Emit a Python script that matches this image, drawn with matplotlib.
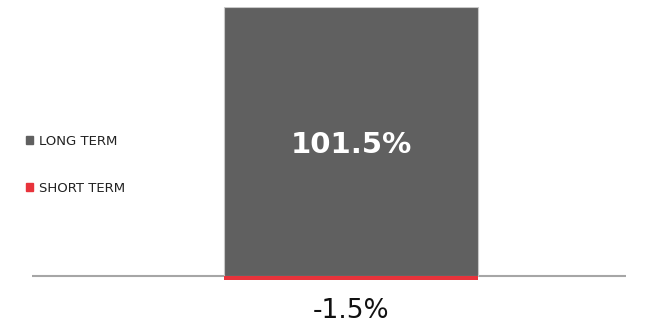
import matplotlib
matplotlib.use("Agg")
import matplotlib.pyplot as plt
from matplotlib.patches import Patch

categories = [""]
series_names = ["LONG TERM", "SHORT TERM"]
long_term = [101.5]
short_term = [-1.5]
colors = ["#606060", "#e8333b"]

fig = plt.figure(figsize=(6.54, 3.27), dpi=100)
ax = fig.add_axes([32/654, 0, 594/654, 1 - 7/327])

x = [0.537]
w = 0.4276
ax.bar(x, long_term, width=w, color=colors[0], edgecolor="#c8c8c8", linewidth=0.8, zorder=2)
ax.bar(x, short_term, width=w, color=colors[1], edgecolor="none", zorder=2)
ax.set_xlim(0, 1)
ax.set_ylim(-19.25, 101.5)
ax.axhline(0, color="#a6a6a6", linewidth=1.5, zorder=1)

for xi, v in zip(x, long_term):
    ax.text(xi, v * 0.5 - 1.5, f"{v:.1f}%", ha="center", va="center", color="white",
            fontsize=21, fontweight="bold", family="DejaVu Sans")
for xi, v in zip(x, short_term):
    ax.text(xi, -13.3, f"{v:.1f}%", ha="center", va="center", color="#111111",
            fontsize=19, family="DejaVu Sans")

for s in ax.spines.values():
    s.set_visible(False)
ax.set_xticks([])
ax.set_yticks([])

handles = [Patch(color=c) for c in colors]
leg = fig.legend(handles, series_names, loc="upper left", bbox_to_anchor=(26/654, 1 - 135/327),
                 frameon=False, fontsize=9.5, handlelength=0.55, handleheight=0.55,
                 handletextpad=0.4, labelspacing=2.55, borderaxespad=0, borderpad=0)
for t in leg.get_texts():
    t.set_color("#222222")

fig.savefig("out.png", dpi=100)
